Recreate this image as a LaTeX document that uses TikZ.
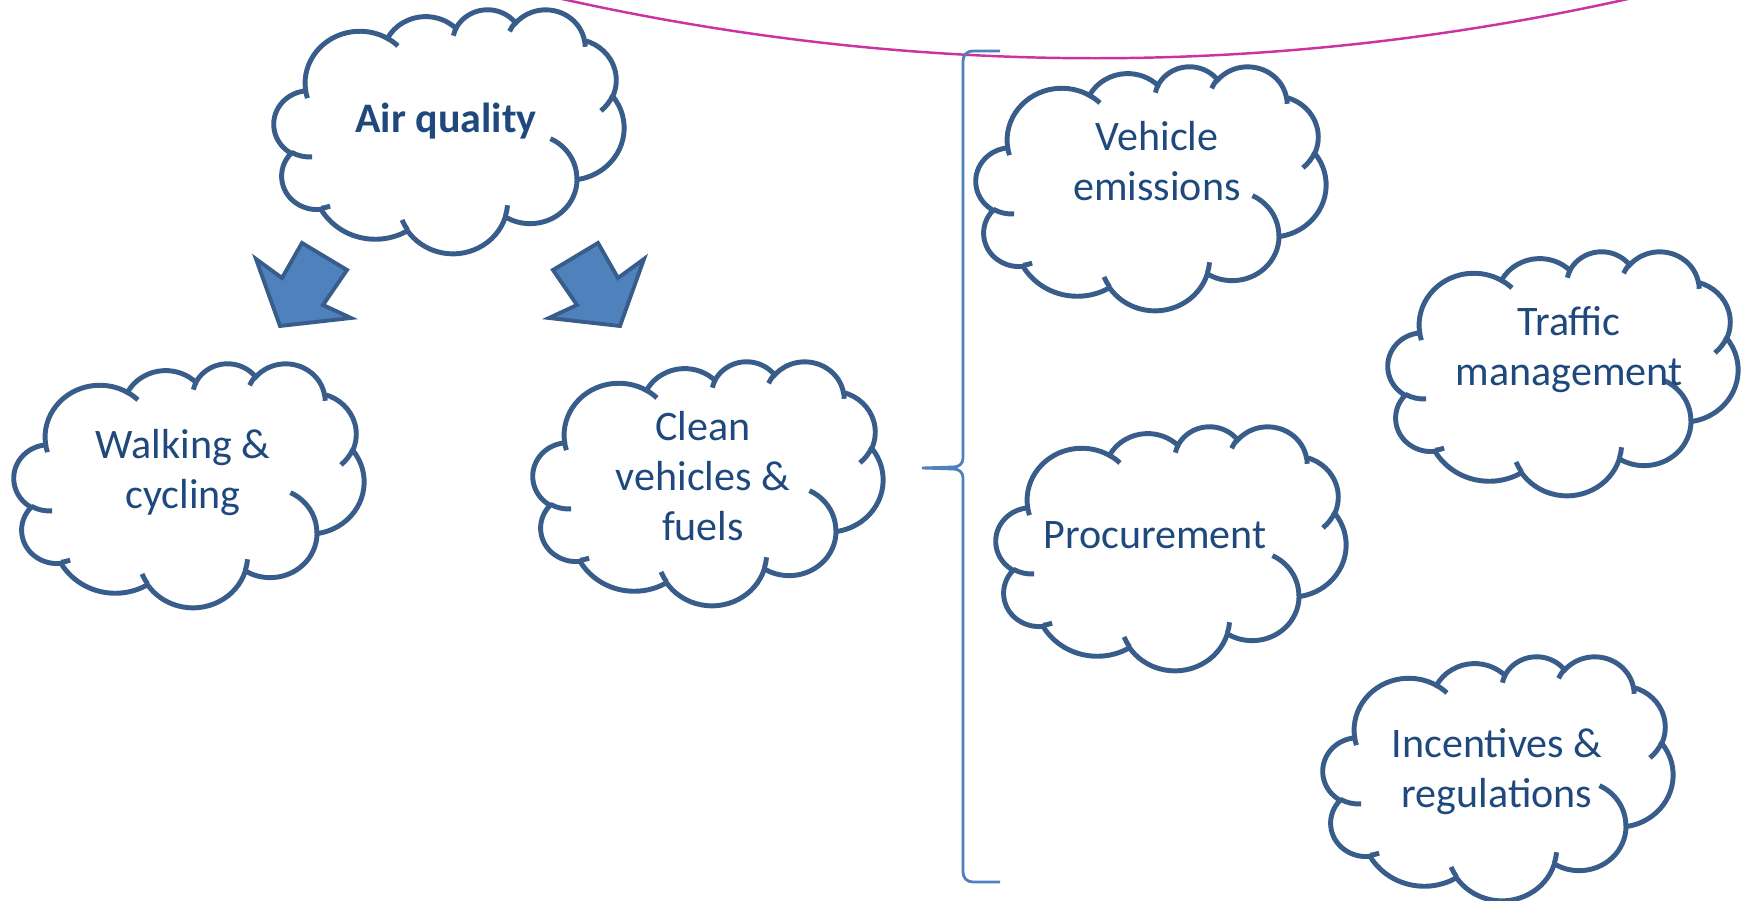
\documentclass[tikz,border=0pt]{standalone}
\usepackage{fontspec}
\setmainfont{Carlito}
\definecolor{cloudcol}{RGB}{56,93,138}
\definecolor{txtcol}{RGB}{31,73,125}
\definecolor{arrowfill}{RGB}{79,129,189}
\definecolor{bracecol}{RGB}{79,129,189}
\definecolor{arccol}{RGB}{204,51,160}

\makeatletter
\newcommand\ooprep[5]{%
  \pgfmathsetmacro\oo@a{atan2((#2)*sin(#4),(#3)*cos(#4))}%
  \pgfmathsetmacro\oo@a{\oo@a+360*round(((#4)-(\oo@a))/360)}%
  \pgfmathsetmacro\oo@b{atan2((#2)*sin((#4)+(#5)),(#3)*cos((#4)+(#5)))}%
  \pgfmathsetmacro\oo@b{\oo@b+360*round(((#4)+(#5)-(\oo@b))/360)}%
  \edef\oo@tmp{\noexpand\tikzset{#1/.style={start angle=\oo@a, end angle=\oo@b, x radius=#2, y radius=#3}}}%
  \oo@tmp}
\makeatother

\ooprep{ooa}{6.753}{9.190}{-190.4875}{123.7805}
\ooprep{oob}{5.333}{7.267}{-144.1024}{89.9452}
\ooprep{ooc}{4.365}{5.945}{-145.8079}{99.7230}
\ooprep{ood}{4.857}{6.595}{-130.9861}{117.2417}
\ooprep{ooe}{5.333}{7.273}{-78.7089}{109.0269}
\ooprep{oof}{6.775}{9.220}{-46.2673}{130.2690}
\ooprep{oog}{5.785}{7.867}{0.6250}{114.0333}
\ooprep{ooh}{6.752}{9.215}{22.4516}{115.1726}
\ooprep{ooi}{7.720}{10.543}{66.2426}{75.7110}
\ooprep{ooj}{4.360}{5.918}{-274.9421}{146.7356}
\ooprep{ook}{4.345}{5.945}{-246.8285}{152.5189}
\ooprep{ooia}{4.345}{5.945}{86.7420}{26.4295}
\ooprep{ooib}{4.360}{5.918}{73.6105}{11.4475}
\ooprep{ooic}{6.752}{9.215}{137.6242}{14.0811}
\ooprep{ooid}{6.752}{9.215}{6.4533}{15.9984}
\ooprep{ooie}{5.785}{7.867}{-70.2924}{70.9174}
\ooprep{ooif}{5.333}{7.273}{30.3180}{27.7515}
\ooprep{ooig}{4.857}{6.595}{-13.7443}{14.8589}
\ooprep{ooih}{4.857}{6.595}{-149.1815}{18.1954}
\ooprep{ooii}{4.365}{5.945}{-163.4943}{17.6864}
\ooprep{ooij}{6.753}{9.190}{-66.7070}{12.3194}
\ooprep{ooik}{6.753}{9.190}{157.6544}{11.8582}

\tikzset{
  cloudstroke/.style={draw=cloudcol, line width=1.4pt},
  lbl/.style={font=\fontsize{11.95}{14.23}\selectfont, text=txtcol, align=center, inner sep=0pt},
  blockarrow/.style={fill=arrowfill, draw=cloudcol, line width=1.1pt, line join=miter},
  braceline/.style={draw=bracecol, line width=0.8pt},
  arcline/.style={draw=arccol, line width=0.7pt}
}

\newcommand\cloudat[2]{%
\begin{scope}[shift={(#1,#2)}, xscale=8.1019, yscale=5.6481]
\draw[cloudstroke, fill=white] (3.9,14.37) arc[ooa] arc[oob] arc[ooc] arc[ood] arc[ooe] arc[oof] arc[oog] arc[ooh] arc[ooi] arc[ooj] arc[ook] -- cycle;
\draw[cloudstroke] (4.693,26.177) arc[ooia] (6.928,34.899) arc[ooib] (16.478,39.09) arc[ooic] (28.827,34.751) arc[ooid] (34.129,22.954) arc[ooie] (41.798,15.354) arc[ooif] (38.324,5.426) arc[ooig] (29.078,3.952) arc[ooih] (22.141,4.72) arc[ooii] (14,5.192) arc[ooij] (4.127,15.789) arc[ooik];
\end{scope}}

\begin{document}
\begin{tikzpicture}[x=0.01cm, y=-0.01cm]
\useasboundingbox[fill=white] (0,0) rectangle (1744,901);

% top arc
\draw[arcline] (523,-10) .. controls (904,81) and (1286,81) .. (1667,-10);

% clouds
\cloudat{274}{9}
\cloudat{14}{363}
\cloudat{533}{361}
\cloudat{976}{66}
\cloudat{1388}{251}
\cloudat{996}{426}
\cloudat{1323}{656}

% labels (base anchor = baseline of the last line)
\node[lbl, anchor=base] (air) at (446,133) {\bfseries Air quality};
\node[lbl, anchor=base] (walk) at (183,509) {Walking \&\\cycling};
\node[lbl, anchor=base] (clean) at (703,541) {Clean\\vehicles \&\\fuels};
\node[lbl, anchor=base] (vehem) at (1157,201) {Vehicle\\emissions};
\node[lbl, anchor=base] (traffic) at (1569,386) {Traffic\\management};
\node[lbl, anchor=base] (proc) at (1155,549) {Procurement};
\node[lbl, anchor=base] (incent) at (1497,808) {Incentives \&\\regulations};

% block arrows
\draw[blockarrow] (302,243) -- (347,270) -- (323,305) -- (351,318) -- (280,326) -- (256,259) -- (282,278) -- cycle;
\draw[blockarrow] (598,243) -- (553,270) -- (577,305) -- (549,318) -- (620,326) -- (644,259) -- (618,278) -- cycle;

% brace
\coordinate (btop) at (1000,51);
\coordinate (btip) at (922,468);
\coordinate (bbot) at (1000,882);
\draw[braceline] (btop) -- (973,51) .. controls (967,51) and (963,55) .. (963,61)
  -- (963,458) .. controls (963,464) and (959,467) .. (953,467) -- (btip)
  -- (953,469) .. controls (959,469) and (963,472) .. (963,478)
  -- (963,872) .. controls (963,878) and (967,882) .. (973,882) -- (bbot);
\end{tikzpicture}
\end{document}
